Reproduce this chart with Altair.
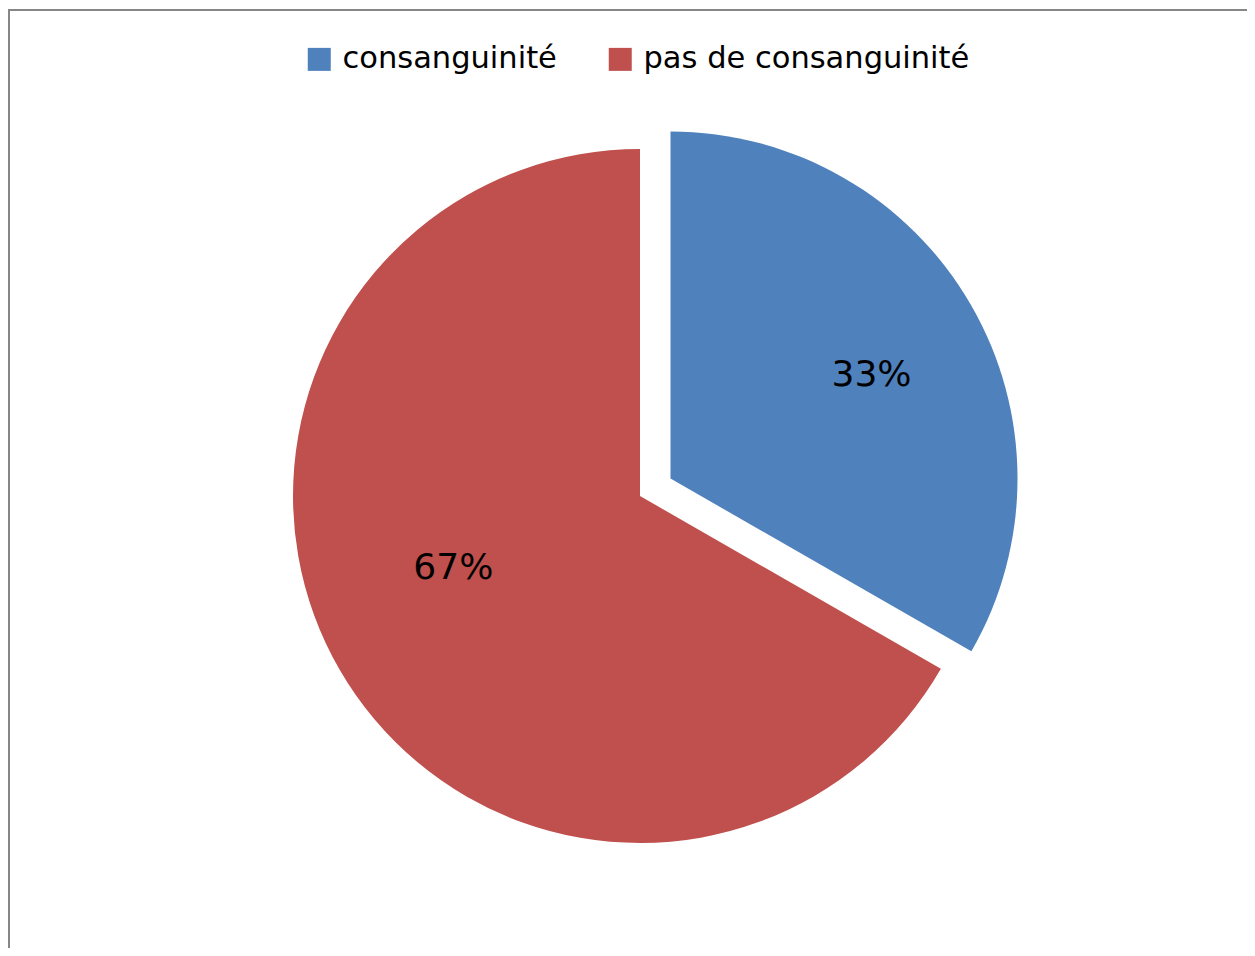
import altair as alt
import pandas as pd

categories = ["consanguinité", "pas de consanguinité"]
values = [33.3, 66.7]
colors = ["#4F81BD", "#C0504D"]

df = pd.DataFrame({"cat": categories, "val": values})

FONT = "DejaVu Sans"
blue_test = "datum.cat == 'consanguinité'"

base = alt.Chart(df).encode(
    theta=alt.Theta("val:Q", stack=True),
    order=alt.Order("cat:N", sort="ascending"),
)

color_enc = alt.Color(
    "cat:N",
    scale=alt.Scale(domain=categories, range=colors),
    legend=alt.Legend(title=None),
)

red_arc = base.mark_arc(outerRadius=347, stroke=None).encode(
    color=color_enc,
    x=alt.value(632),
    y=alt.value(488),
    fillOpacity=alt.condition(blue_test, alt.value(0), alt.value(1)),
)

blue_arc = base.mark_arc(outerRadius=347, stroke=None).encode(
    color=color_enc,
    x=alt.value(662.5),
    y=alt.value(470.5),
    fillOpacity=alt.condition(blue_test, alt.value(1), alt.value(0)),
)

blue_text = base.mark_text(
    radius=226, thetaOffset=0.05, font=FONT, fontSize=36, color="black",
    align="center", baseline="middle",
).encode(
    detail="cat:N",
    x=alt.value(662.5),
    y=alt.value(470.5),
    opacity=alt.condition(blue_test, alt.value(1), alt.value(0)),
).transform_calculate(lbl="format(datum.val, '.0f') + '%'").encode(
    text="lbl:N"
)

red_text = base.mark_text(
    radius=200, thetaOffset=0.157, font=FONT, fontSize=36, color="black",
    align="center", baseline="middle",
).encode(
    detail="cat:N",
    x=alt.value(632),
    y=alt.value(488),
    opacity=alt.condition(blue_test, alt.value(0), alt.value(1)),
).transform_calculate(lbl="format(datum.val, '.0f') + '%'").encode(
    text="lbl:N"
)

frame_top = alt.Chart(df).mark_rule(color="#868686", strokeWidth=2).encode(
    x=alt.value(0), x2=alt.value(1240), y=alt.value(2)
)
frame_left = alt.Chart(df).mark_rule(color="#868686", strokeWidth=2).encode(
    x=alt.value(1), y=alt.value(1), y2=alt.value(950)
)

chart = alt.layer(
    frame_top, frame_left, red_arc, blue_arc, red_text, blue_text
).properties(
    width=1239, height=940, autosize=alt.AutoSizeParams(type="none"),
    padding={"left": 0, "top": 0, "right": 0, "bottom": 0},
).configure_view(
    stroke=None
).configure_legend(
    orient="none",
    legendX=296,
    legendY=36,
    direction="horizontal",
    labelFont=FONT,
    labelFontSize=30.5,
    labelColor="black",
    labelOffset=8,
    columnPadding=48,
    padding=0,
    symbolType="square",
    symbolSize=529,
    symbolStrokeWidth=0,
    symbolOpacity=1,
    labelLimit=600,
)

chart.save("out.html", embed_options={"renderer": "svg", "actions": False})
